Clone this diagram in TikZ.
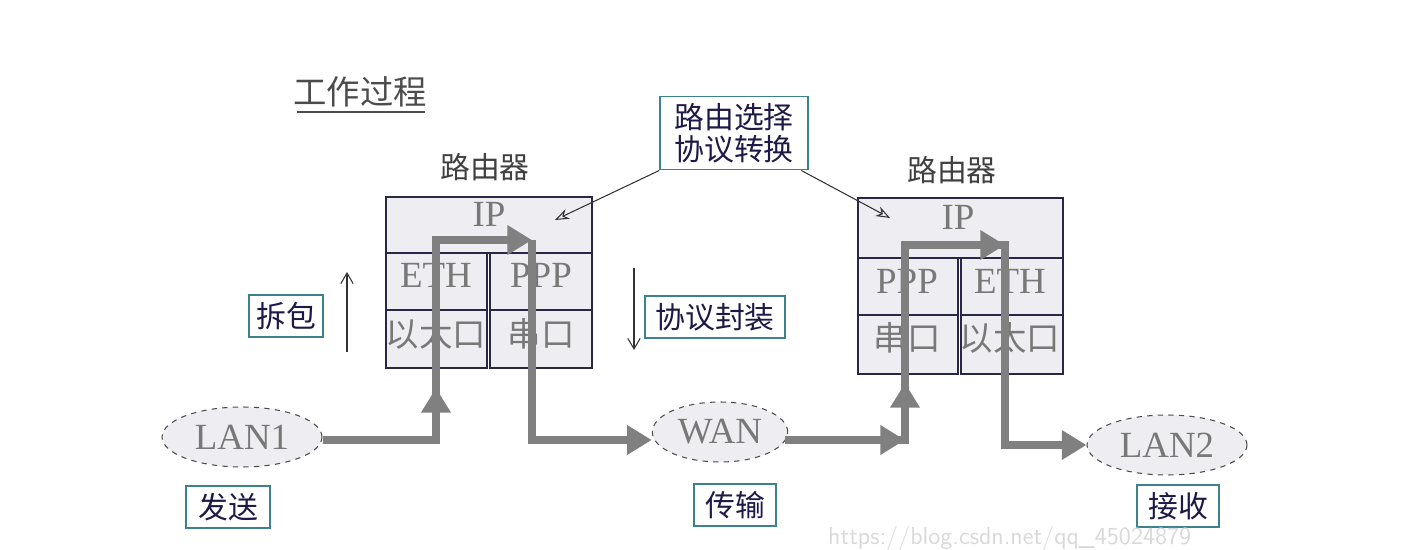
\documentclass[tikz,border=0pt]{standalone}
\usepackage{fontspec}
\newfontfamily\cjk{Noto Sans CJK SC}
\setmainfont{Liberation Serif}
\usetikzlibrary{arrows.meta,shapes.geometric}
\definecolor{cellbg}{RGB}{238,238,242}
\definecolor{cellline}{RGB}{40,40,70}
\definecolor{teal1}{RGB}{60,130,140}
\definecolor{navy}{RGB}{30,25,70}
\definecolor{flow}{RGB}{128,128,128}
\definecolor{txtgray}{RGB}{120,120,120}
\tikzset{
 cell/.style={draw=cellline,fill=cellbg,line width=0.8pt},
 lbl/.style={draw=teal1,line width=0.9pt,fill=white,inner sep=4pt,font=\cjk\fontsize{17}{20}\selectfont,text=navy,align=center},
 ell/.style={draw=black!70,fill=cellbg,ellipse,dashed,line width=0.6pt},
 celltxt/.style={font=\fontsize{21}{22}\selectfont,text=txtgray},
 celltxtc/.style={font=\cjk\fontsize{19}{22}\selectfont,text=txtgray},
 flowline/.style={draw=flow,line width=5pt},
 fa/.style={-{Triangle[length=14pt,width=16pt]}},
 thin/.style={-{Stealth[length=8pt,width=6pt,open]},line width=0.6pt,draw=black!80},
}
\begin{document}
\begin{tikzpicture}[x=0.02cm,y=-0.02cm]
\useasboundingbox (0,0) rectangle (1413,550);
\node[font=\cjk\fontsize{19}{22}\selectfont,text=black!70] (title) at (360,92) {工作过程};
\draw[black!70,line width=0.8pt] (297,112) -- (425,112);
% left router
\node[font=\cjk\fontsize{17}{20}\selectfont,text=black!75] (r1lbl) at (485,167) {路由器};
\draw[cell] (386,197) rectangle (592,253); \node[celltxt] (ip1) at (489,214) {IP};
\draw[cell] (386,253) rectangle (487,310); \node[celltxt] (eth1) at (436,275) {ETH};
\draw[cell] (490,253) rectangle (592,310); \node[celltxt] (ppp1) at (541,275) {PPP};
\draw[cell] (386,310) rectangle (487,368); \node[celltxtc] (p11) at (436,334) {以太口};
\draw[cell] (490,310) rectangle (592,368); \node[celltxtc] (p12) at (541,334) {串口};
% right router
\node[font=\cjk\fontsize{17}{20}\selectfont,text=black!75] (r2lbl) at (952,170) {路由器};
\draw[cell] (858,198) rectangle (1063,258); \node[celltxt] (ip2) at (958,217) {IP};
\draw[cell] (858,258) rectangle (958,315); \node[celltxt] (ppp2) at (907,281) {PPP};
\draw[cell] (961,258) rectangle (1063,315); \node[celltxt] (eth2) at (1010,281) {ETH};
\draw[cell] (858,315) rectangle (958,374); \node[celltxtc] (p21) at (907,338) {串口};
\draw[cell] (961,315) rectangle (1063,374); \node[celltxtc] (p22) at (1010,338) {以太口};
% ellipses
\node[ell,minimum width=3.2cm,minimum height=1.2cm,celltxt] (lan1) at (242,437) {LAN1};
\node[ell,minimum width=2.6cm,minimum height=1.2cm,celltxt] (wan) at (720,432) {WAN};
\node[ell,minimum width=3.2cm,minimum height=1.2cm,celltxt] (lan2) at (1167,445) {LAN2};
% flow
\coordinate (a1) at (436,440); \coordinate (a2) at (436,240); \coordinate (a3) at (532,240);
\coordinate (a4) at (532,440);
\draw[flowline] (lan1.east|-a1) -- (a1) -- (a2) -- (510,240);
\draw[flowline,fa] (a1) -- (436,388);
\draw[flowline,fa] (a2) -- (a3);
\draw[flowline] (a3) -- (a4) -- (630,440);
\draw[flowline,fa] (a4) -- (wan.west|-a4);
\coordinate (b0) at (785,440); \coordinate (b1) at (905,440); \coordinate (b2) at (905,245); \coordinate (b3) at (1005,245); \coordinate (b4) at (1005,445);
\draw[flowline] (b0) -- (b1) -- (b2) -- (b3) -- (b4) -- (1070,445);
\draw[flowline,fa] (b0) -- (b1);
\draw[flowline,fa] (b1) -- (905,383);
\draw[flowline,fa] (b2) -- (b3);
\draw[flowline,fa] (b4) -- (lan2.west|-b4);
% labels
\node[lbl,minimum width=2.96cm,minimum height=1.46cm] (sel) at (734,133) {路由选择\\[-2pt]协议转换};
\coordinate (t1) at (555,220); \coordinate (t2) at (890,218);
\draw[thin] (sel.south west) -- (t1);
\draw[thin] ([xshift=-0.15cm]sel.south east) -- (t2);
\node[lbl,minimum width=1.36cm,minimum height=0.8cm] (chai) at (286,316) {拆包};
\coordinate (u1) at (347,352); \coordinate (u2) at (347,272);
\draw[thin,-{Straight Barb[length=6pt,width=7pt]}] (u1) -- (u2);
\node[lbl,minimum width=2.8cm,minimum height=0.82cm] (feng) at (715,317) {协议封装};
\coordinate (d1) at (634,268); \coordinate (d2) at (634,350);
\draw[thin,-{Straight Barb[length=6pt,width=7pt]}] (d1) -- (d2);
\node[lbl,minimum width=1.68cm,minimum height=0.84cm] (fa) at (228,507) {发送};
\node[lbl,minimum width=1.64cm,minimum height=0.84cm] (cs) at (735,505) {传输};
\node[lbl,minimum width=1.64cm,minimum height=0.84cm] (js) at (1178,506) {接收};
\node[font=\sffamily\fontsize{14}{16}\selectfont,text=black!15,anchor=west] (wm) at (822,538) {https://blog.csdn.net/qq\_45024879};
\end{tikzpicture}
\end{document}
